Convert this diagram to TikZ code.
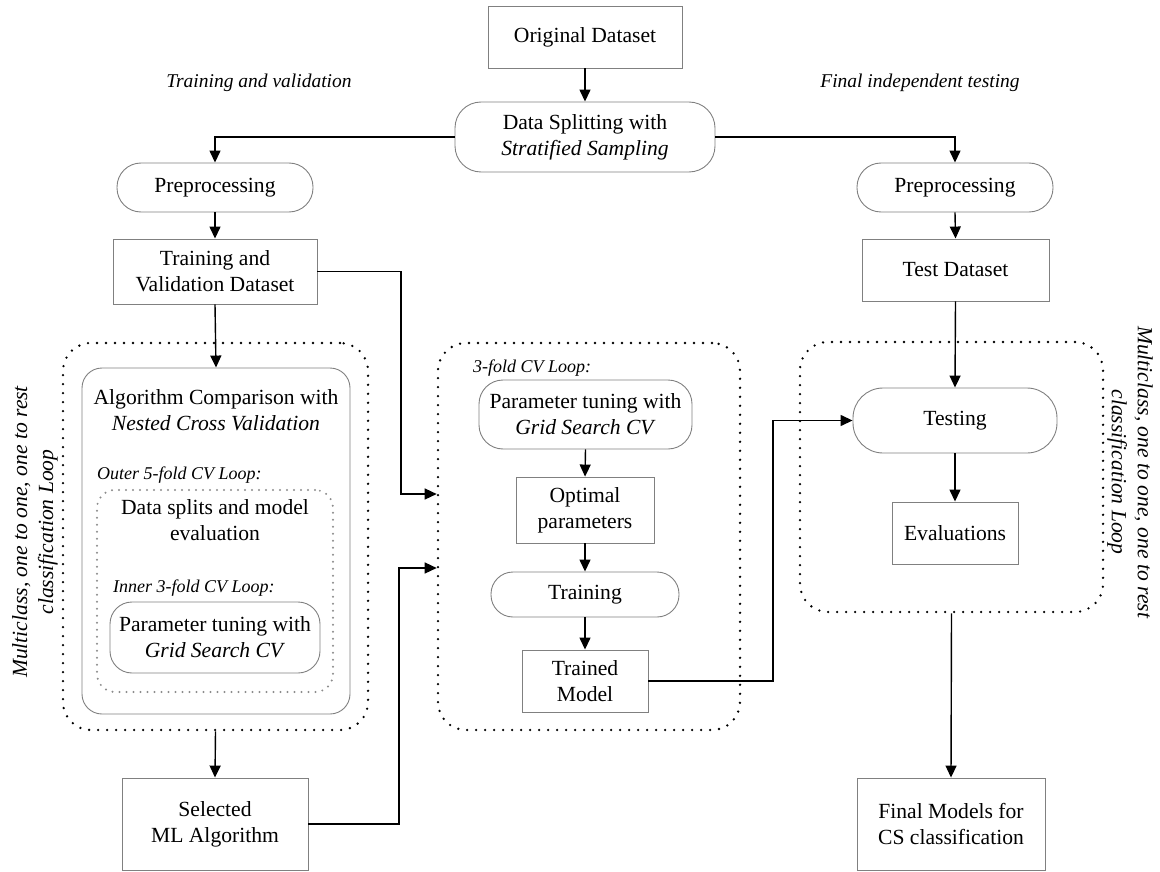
\documentclass[tikz,border=0pt]{standalone}
\usepackage{fontspec}
\setmainfont{Liberation Serif}
\usetikzlibrary{arrows.meta}
\newcommand\mainfs{\fontsize{21.6}{26}\selectfont}
\newcommand\smallit{\fontsize{18}{22}\selectfont\itshape}
\newcommand\topit{\fontsize{19.5}{23}\selectfont\itshape}
\begin{document}
\begin{tikzpicture}[x=1pt,y=-1pt,
  box/.style={draw=black!50, line width=0.9pt, inner sep=0pt, align=center, font=\mainfs},
  txt/.style={inner sep=0pt, align=center, font=\mainfs},
  arr/.style={-{Triangle[length=12pt,width=11pt]}, line width=1.4pt},
  ln/.style={line width=1.4pt},
  dotbox/.style={draw, line width=2.6pt, dash pattern=on 0pt off 9pt, line cap=round, rounded corners=28pt, inner sep=0pt},
  gdotbox/.style={draw=black!45, line width=2.2pt, dash pattern=on 0pt off 7pt, line cap=round, rounded corners=18pt, inner sep=0pt},
  lbl/.style={font=\smallit, inner sep=0pt, anchor=west},
  toplbl/.style={font=\topit, inner sep=0pt}]
\useasboundingbox (0,0) rectangle (1160,872);

% dotted loop boxes
\node[dotbox, minimum width=305pt, minimum height=387pt] (loopL) at (215.5,536.5) {};
\node[dotbox, minimum width=302pt, minimum height=387pt] (loopM) at (589,536.5) {};
\node[dotbox, minimum width=303pt, minimum height=270pt] (loopR) at (951.5,477) {};

% top
\node[box, minimum width=194pt, minimum height=62pt] (orig) at (585,37) {Original Dataset};
\node[box, rounded corners=26pt, minimum width=260pt, minimum height=70pt] (split) at (585,137) {Data Splitting with\\\textit{Stratified Sampling}};
\node[toplbl] (tl) at (259,83) {Training and validation};
\node[toplbl] (tr) at (920,83) {Final independent testing};

% left column
\node[box, rounded corners=24pt, minimum width=196pt, minimum height=49pt] (pre1) at (215,187.5) {Preprocessing};
\node[box, minimum width=204pt, minimum height=65pt] (tvd) at (215,271.5) {Training and\\Validation Dataset};
\node[box, rounded corners=20pt, minimum width=268pt, minimum height=346pt] (alg) at (216,541) {};
\node[txt] (algt) at (216,410) {Algorithm Comparison with\\\textit{Nested Cross Validation}};
\node[lbl] (outer) at (97,475) {Outer 5-fold CV Loop:};
\node[gdotbox, minimum width=236pt, minimum height=202pt] (inner) at (215,591) {};
\node[txt] (splits) at (215,520) {Data splits and model\\evaluation};
\node[lbl] (innerl) at (113,588) {Inner 3-fold CV Loop:};
\node[box, rounded corners=22pt, minimum width=210pt, minimum height=71pt] (ptL) at (215,637.5) {Parameter tuning with\\\textit{Grid Search CV}};
\node[box, minimum width=186pt, minimum height=92pt] (sel) at (215,824) {Selected\\ML Algorithm};
\node[txt, rotate=90] (vlL) at (35,532) {\itshape Multiclass, one to one, one to rest\\\itshape classification Loop};

% middle column
\node[lbl] (midl) at (473,368) {3-fold CV Loop:};
\node[box, rounded corners=24pt, minimum width=213pt, minimum height=69pt] (ptM) at (585.5,414.5) {Parameter tuning with\\\textit{Grid Search CV}};
\node[box, minimum width=138pt, minimum height=66pt] (opt) at (585,510) {Optimal\\parameters};
\node[box, rounded corners=22pt, minimum width=188pt, minimum height=45pt] (train) at (585,594.5) {Training};
\node[box, minimum width=126pt, minimum height=62pt] (tm) at (585,681) {Trained\\Model};

% right column
\node[box, rounded corners=24pt, minimum width=196pt, minimum height=49pt] (pre2) at (955,187.5) {Preprocessing};
\node[box, minimum width=187pt, minimum height=62pt] (test) at (955.5,270) {Test Dataset};
\node[box, rounded corners=30pt, minimum width=204pt, minimum height=65pt] (testing) at (955,420.5) {Testing};
\node[box, minimum width=126pt, minimum height=62pt] (eval) at (955,533) {Evaluations};
\node[box, minimum width=188pt, minimum height=92pt] (final) at (951,824) {Final Models for\\CS classification};
\node[txt, rotate=-90] (vlR) at (1130,472) {\itshape Multiclass, one to one, one to rest\\\itshape classification Loop};

% connectors
\coordinate (c1) at (401,494);
\coordinate (c2) at (399,568);
\coordinate (c3) at (773,681);
\draw[arr] (orig.south) -- (split.north);
\draw[arr] (split.west) -| (pre1.north);
\draw[arr] (split.east) -| (pre2.north);
\draw[arr] (pre1.south) -- (tvd.north);
\draw[arr] (tvd.south) -- (alg.north);
\draw[arr] (tvd.east) -| (c1) -- (loopM.west |- c1);
\draw[arr] (loopL.south) -- (sel.north);
\draw[arr] (sel.east) -| (c2) -- (loopM.west |- c2);
\draw[arr] (ptM.south) -- (opt.north);
\draw[arr] (opt.south) -- (train.north);
\draw[arr] (train.south) -- (tm.north);
\draw[arr] (tm.east) -| (c3 |- testing.west) -- (testing.west);
\draw[arr] (pre2.south) -- (test.north);
\draw[arr] (test.south) -- (testing.north);
\draw[arr] (testing.south) -- (eval.north);
\draw[arr] (loopR.south) -- (final.north);
\end{tikzpicture}
\end{document}
